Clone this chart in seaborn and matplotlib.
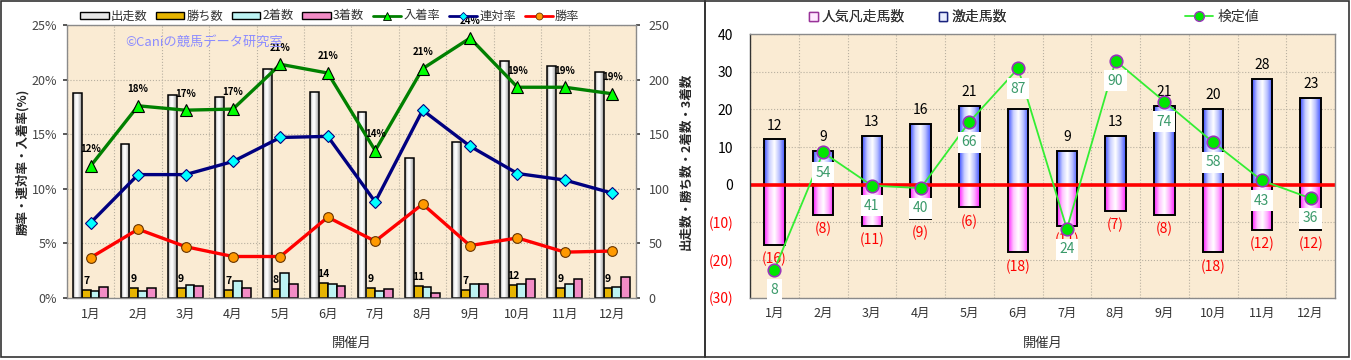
import numpy as np
import pandas as pd
import matplotlib
matplotlib.use('Agg')
import matplotlib.pyplot as plt
import seaborn as sns
from matplotlib.colors import LinearSegmentedColormap
from matplotlib.patches import Patch, Rectangle
from matplotlib.lines import Line2D

sns.set_theme(style="white")
plt.rcParams['font.family'] = ['Noto Sans CJK JP', 'DejaVu Sans']

months = [f"{m}月" for m in range(1, 13)]

# left chart - counts (right axis)
starts = [188, 141, 186, 184, 210, 189, 170, 128, 143, 217, 212, 207]
wins = [7, 9, 9, 7, 8, 14, 9, 11, 7, 12, 9, 9]
seconds = [6, 6, 12, 16, 23, 13, 6, 10, 13, 13, 13, 10]
thirds = [10, 9, 11, 9, 13, 11, 8, 5, 13, 17, 17, 19]
count_names = ['出走数', '勝ち数', '2着数', '3着数']

# left chart - rates (left axis, %)
place_rate = [12.1, 17.6, 17.2, 17.3, 21.4, 20.6, 13.5, 21.0, 23.8, 19.3, 19.3, 18.7]
place_labels = ['12%', '18%', '17%', '17%', '21%', '21%', '14%', '21%', '24%', '19%', '19%', '19%']
quinella_rate = [6.9, 11.3, 11.3, 12.5, 14.7, 14.8, 8.8, 17.2, 13.9, 11.4, 10.8, 9.6]
win_rate = [3.7, 6.3, 4.7, 3.8, 3.8, 7.4, 5.2, 8.6, 4.8, 5.5, 4.2, 4.3]

# right chart
surge = [12, 9, 13, 16, 21, 20, 9, 13, 21, 20, 28, 23]
flop = [16, 8, 11, 9, 6, 18, 11, 7, 8, 18, 12, 12]
score = [8, 54, 41, 40, 66, 87, 24, 90, 74, 58, 43, 36]

BG = '#FAEBD3'
GRID = '#B8B0A0'

cyl_gray = LinearSegmentedColormap.from_list('g', ['#8c8c8c', '#f4f4f4', '#ffffff', '#d0d0d0', '#8a8a8a'])
cyl_blue = LinearSegmentedColormap.from_list('b', ['#3a4cff', '#c8ceff', '#ffffff', '#b4bcff', '#3f52ff'])
cyl_pink = LinearSegmentedColormap.from_list('p', ['#ff1cff', '#ffc4ff', '#ffffff', '#ffaaff', '#ff22ff'])


def shade_bars(ax, bars, cmap):
    grad = np.linspace(0, 1, 64).reshape(1, -1)
    for p in bars:
        x0, y0 = p.get_x(), p.get_y()
        w, h = p.get_width(), p.get_height()
        im = ax.imshow(grad, extent=[x0, x0 + w, y0, y0 + h], cmap=cmap,
                       aspect='auto', interpolation='bilinear', zorder=1.5)
        im.set_clip_path(p)
        p.set_facecolor('none')
        p.set_zorder(1.6)


def style_grid(ax):
    ax.set_facecolor(BG)
    ax.set_axisbelow(True)
    ax.set_xticks(np.arange(-0.5, 12, 1), minor=True)
    ax.grid(which='minor', axis='x', color=GRID, ls=':', lw=0.8)
    ax.grid(which='major', axis='y', color=GRID, ls=':', lw=0.8)
    ax.tick_params(axis='x', which='minor', length=0)
    for s in ax.spines.values():
        s.set_color('#8a8a8a')
        s.set_linewidth(1.0)


fig = plt.figure(figsize=(13.51, 3.6), dpi=100)
W, H = 1351, 360

# ---------------- left chart ----------------
ax = fig.add_axes([67 / W, 1 - 298 / H, 569 / W, 273 / H])
style_grid(ax)

df_counts = pd.DataFrame({
    'month': months * 4,
    'series': sum([[n] * 12 for n in count_names], []),
    'value': starts + wins + seconds + thirds,
})
palette = {'出走数': '#eeeeee', '勝ち数': '#E6B400', '2着数': '#BDF3F3', '3着数': '#F28CC6'}
sns.barplot(data=df_counts, x='month', y='value', hue='series', hue_order=count_names,
            palette=palette, width=0.74, gap=0, ax=ax, legend=False,
            edgecolor='black', linewidth=1.1, saturation=1)
shade_bars(ax, ax.containers[0], cyl_gray)
ax.bar_label(ax.containers[1], labels=[str(v) for v in wins], padding=3,
             fontsize=7.5, fontweight='bold', color='black')

ax2 = ax.twinx()

ax.set_xlim(-0.5, 11.5)
ax.set_ylim(0, 250)
ax.set_yticks(range(0, 251, 50))
ax.yaxis.tick_right()
ax.yaxis.set_label_position('right')
ax.set_ylabel('出走数・勝ち数・2着数・3着数', fontsize=9, fontweight='bold', labelpad=7)
ax.set_xlabel('開催月', fontsize=9.5, labelpad=12, color='#333333')
ax.tick_params(axis='y', labelsize=9, colors='#444444', length=3, pad=6)
ax.tick_params(axis='x', which='major', labelsize=9, colors='#333333', length=0, pad=7)

ax2.yaxis.tick_left()
ax2.yaxis.set_label_position('left')
pos = np.arange(12)
sns.lineplot(x=pos, y=place_rate, ax=ax2, color='#008000', lw=2.4, marker='^',
             markersize=9, markerfacecolor='#00FF00', markeredgecolor='black', markeredgewidth=0.8)
sns.lineplot(x=pos, y=quinella_rate, ax=ax2, color='#000080', lw=2.4, marker='D',
             markersize=6, markerfacecolor='#00FFFF', markeredgecolor='#000080', markeredgewidth=0.8)
sns.lineplot(x=pos, y=win_rate, ax=ax2, color='#FF0000', lw=2.4, marker='o',
             markersize=7, markerfacecolor='#FF9900', markeredgecolor='#663300', markeredgewidth=0.8)
for i, (v, t) in enumerate(zip(place_rate, place_labels)):
    ax2.annotate(t, (i, v), xytext=(0, 12), textcoords='offset points', ha='center', va='center',
                 fontsize=7, fontweight='bold', color='black')
ax2.set_xlim(-0.5, 11.5)
ax2.set_ylim(0, 25)
ax2.set_yticks(range(0, 26, 5))
ax2.set_yticklabels([f"{v}%" for v in range(0, 26, 5)])
ax2.tick_params(axis='y', labelsize=9, colors='#444444', length=3, pad=4)
ax2.set_ylabel('勝率・連対率・入着率(%)', fontsize=9, fontweight='bold', labelpad=2)
for s in ax2.spines.values():
    s.set_visible(False)
ax2.text(0.102, 0.938, '©Caniの競馬データ研究室', transform=ax2.transAxes, color='#8C8CFF',
         fontsize=9.5, ha='left', va='center')

left_handles = [
    Patch(facecolor='#e6e6e6', edgecolor='black', label='出走数'),
    Patch(facecolor='#E6B400', edgecolor='black', label='勝ち数'),
    Patch(facecolor='#BDF3F3', edgecolor='black', label='2着数'),
    Patch(facecolor='#F28CC6', edgecolor='black', label='3着数'),
    Line2D([], [], color='#008000', lw=2, marker='^', markersize=6, markerfacecolor='#00FF00',
           markeredgecolor='black', markeredgewidth=0.6, label='入着率'),
    Line2D([], [], color='#000080', lw=2, marker='D', markersize=4.5, markerfacecolor='#00FFFF',
           markeredgecolor='#000080', markeredgewidth=0.6, label='連対率'),
    Line2D([], [], color='#FF0000', lw=2, marker='o', markersize=5, markerfacecolor='#FF9900',
           markeredgecolor='#663300', markeredgewidth=0.6, label='勝率'),
]
fig.legend(handles=left_handles, loc='center', bbox_to_anchor=(330 / W, 1 - 16 / H), ncol=7,
           frameon=False, fontsize=8.8, handlelength=2.3, handleheight=0.5, handletextpad=0.2,
           columnspacing=0.7, labelcolor='#333333')

# ---------------- right chart ----------------
axr = fig.add_axes([750 / W, 1 - 297.7 / H, 585 / W, 263.7 / H])
style_grid(axr)
sns.barplot(x=months, y=[-v for v in flop], color='#ff66ff', width=0.42, ax=axr,
            edgecolor='black', linewidth=1.4, saturation=1)
sns.barplot(x=months, y=surge, color='#6677ff', width=0.42, ax=axr,
            edgecolor='black', linewidth=1.4, saturation=1)
shade_bars(axr, axr.containers[0], cyl_pink)
shade_bars(axr, axr.containers[1], cyl_blue)
axr.bar_label(axr.containers[0], labels=[f"({v})" for v in flop], padding=5,
              fontsize=10, color='#FF0000')
axr.bar_label(axr.containers[1], labels=[str(v) for v in surge], padding=5,
              fontsize=10, color='black')
axr.axhline(0, color='#FF0000', lw=2.6, zorder=2)

axr2 = axr.twinx()

axr.set_xlim(-0.5, 11.5)
axr.set_ylim(-30, 40)
yt = list(range(-30, 41, 10))
axr.set_yticks(yt)
axr.set_yticklabels([f"({-v})" if v < 0 else str(v) for v in yt])
for lab, v in zip(axr.get_yticklabels(), yt):
    lab.set_color('#FF0000' if v < 0 else 'black')
axr.yaxis.tick_left()
axr.tick_params(axis='y', labelsize=10, length=0, pad=12)
axr.tick_params(axis='x', which='major', labelsize=9, colors='#333333', length=0, pad=7)
axr.set_xlabel('開催月', fontsize=9.5, labelpad=12, color='#333333')
axr.spines['left'].set_color('#333333')

sns.lineplot(x=pos, y=score, ax=axr2, color='#33EE33', lw=1.3, marker='o', markersize=9,
             markerfacecolor='#00E600', markeredgecolor='#9933BB', markeredgewidth=1.2)
for i, v in enumerate(score):
    axr2.annotate(str(v), (i, v), xytext=(0, -14.5), textcoords='offset points', ha='center',
                  va='center', fontsize=10, color='#3A9A6A',
                  bbox=dict(boxstyle='square,pad=0.25', fc='white', ec='none'))
axr2.set_xlim(-0.5, 11.5)
axr2.set_ylim(-3, 100.5)
axr2.set_yticks([])
for s in axr2.spines.values():
    s.set_visible(False)

bar_handles = [
    Patch(facecolor='#ffe8ff', edgecolor='#993399', label='人気凡走馬数'),
    Patch(facecolor='#e8ecff', edgecolor='#1a237e', label='激走馬数'),
]
leg1 = fig.legend(handles=bar_handles, loc='center', bbox_to_anchor=(908 / W, 1 - 17 / H), ncol=2,
                  frameon=False, fontsize=10, handlelength=0.6, handleheight=0.6,
                  handletextpad=0.3, columnspacing=2.4, labelcolor='#333333')
line_handle = [Line2D([], [], color='#33EE33', lw=1.3, marker='o', markersize=7,
                      markerfacecolor='#00E600', markeredgecolor='#9933BB', label='検定値')]
fig.legend(handles=line_handle, loc='center', bbox_to_anchor=(1222 / W, 1 - 17 / H),
           frameon=False, fontsize=10, handlelength=2.0, handletextpad=0.3, labelcolor='#333333')
fig.add_artist(leg1)

# panel frames
fig.add_artist(Rectangle((1 / W, 3 / H), 704 / W, 356 / H, transform=fig.transFigure,
                         fill=False, ec='#333333', lw=1.2))
fig.add_artist(Rectangle((705 / W, 3 / H), 644 / W, 356 / H, transform=fig.transFigure,
                         fill=False, ec='#333333', lw=1.2))

fig.savefig('out.png', dpi=100)
